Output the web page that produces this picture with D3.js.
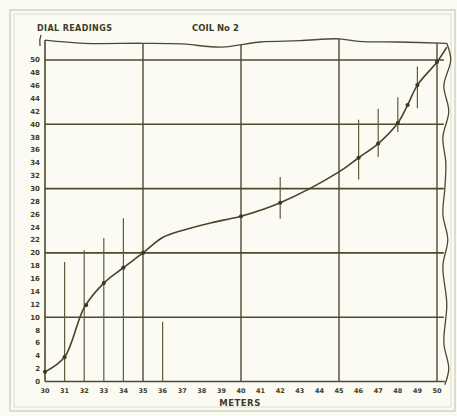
<!DOCTYPE html>
<html>
<head>
<meta charset="utf-8">
<script src="https://cdn.jsdelivr.net/npm/d3@7"></script>
<style>
  body { margin: 0; background: #fbfbf4; }
  svg { display: block; }
  text { font-family: "DejaVu Sans", sans-serif; font-weight: bold; fill: #3c3c28; }
</style>
</head>
<body>
<svg id="chart" width="457" height="416"></svg>
<script>
// Coil No 2 - dial readings against wavelength in meters

const meters = [30, 31, 32, 33, 34, 35, 36, 37, 38.5, 40, 42, 45, 46, 47, 48, 48.5, 49, 50, 50.5];
const dial   = [1.5, 3.8, 11.5, 15.3, 17.7, 20, 22.4, 23.5, 24.7, 25.7, 27.8, 32.6, 34.8, 37, 40.2, 43, 46.1, 49.7, 52];

// points marked on the curve
const markedMeters = [30, 31, 32.1, 33, 34, 35, 40, 42, 46, 47, 48, 48.5, 49, 50];

// vertical reading spans [meters, low, high]
const spans = [
    [31, 0, 18.6],
    [32, 0, 20.4],
    [33, 0, 22.3],
    [34, 0, 25.4],
    [36, 0, 9.3],
    [42, 25.3, 31.8],
    [46, 31.4, 40.7],
    [47, 34.9, 42.4],
    [48, 38.8, 44.2],
    [49, 42.5, 49]
];

const yTicks = d3.range(0, 52, 2);
const xTicks = d3.range(30, 51, 1);
const gridY = [10, 20, 30, 40, 50];
const gridX = [35, 40, 45, 50];

// torn paper edge (top, then right side), in data units
const topEdge = [[30, 53.1], [32, 52.6], [35, 52.6], [37, 52.5], [39, 52.0], [41, 52.8], [43, 53.0], [45, 53.3], [46, 52.9], [48, 52.8], [50.5, 52.6]];
const rightEdge = [[50.5, 52.6], [50.7, 50], [50.35, 46], [50.6, 42], [50.3, 38], [50.45, 34], [50.4, 30], [50.3, 26], [50.55, 22], [50.3, 18], [50.5, 12], [50.35, 6], [50.6, 2], [50.4, -0.5]];

const svg = d3.select('#chart');
const ink = '#4b4b30';

const x = d3.scaleLinear().domain([30, 50]).range([45, 437]);
const y = d3.scaleLinear().domain([0, 50]).range([381.5, 60]);
const topAt = d3.scaleLinear().domain(topEdge.map(d => d[0])).range(topEdge.map(d => d[1]));

// outer frame
svg.append('rect').attr('x', 10).attr('y', 10).attr('width', 445).attr('height', 401)
    .attr('fill', 'none').attr('stroke', '#c9c9b6').attr('stroke-width', 1.2);
svg.append('rect').attr('x', 14).attr('y', 14).attr('width', 437).attr('height', 393)
    .attr('fill', 'none').attr('stroke', '#dcdccb').attr('stroke-width', 1);

// grid
svg.selectAll('line.gy').data(gridY).enter().append('line')
    .attr('class', 'gy')
    .attr('x1', x(30)).attr('x2', x(50.35))
    .attr('y1', d => y(d)).attr('y2', d => y(d))
    .attr('stroke', ink).attr('stroke-width', 1.6);

svg.selectAll('line.gx').data(gridX).enter().append('line')
    .attr('class', 'gx')
    .attr('x1', d => x(d)).attr('x2', d => x(d))
    .attr('y1', y(0)).attr('y2', d => y(topAt(d)))
    .attr('stroke', ink).attr('stroke-width', 1.4);

// axes
svg.append('line').attr('x1', x(30)).attr('x2', x(50.4))
    .attr('y1', y(0)).attr('y2', y(0)).attr('stroke', ink).attr('stroke-width', 1.6);
svg.append('line').attr('x1', x(30)).attr('x2', x(30))
    .attr('y1', y(0)).attr('y2', y(53.1)).attr('stroke', ink).attr('stroke-width', 1.6);

const edge = d3.line().x(d => x(d[0])).y(d => y(d[1])).curve(d3.curveCatmullRom);
svg.append('path').attr('d', edge(topEdge))
    .attr('fill', 'none').attr('stroke', ink).attr('stroke-width', 1.3);
svg.append('path').attr('d', edge(rightEdge))
    .attr('fill', 'none').attr('stroke', ink).attr('stroke-width', 1.3);

// reading spans
svg.selectAll('line.span').data(spans).enter().append('line')
    .attr('class', 'span')
    .attr('x1', d => x(d[0])).attr('x2', d => x(d[0]))
    .attr('y1', d => y(d[1])).attr('y2', d => y(d[2]))
    .attr('stroke', '#5d5d3c').attr('stroke-width', 1.2);

// curve
const curveData = meters.map((m, i) => [m, dial[i]]);
const line = d3.line().x(d => x(d[0])).y(d => y(d[1])).curve(d3.curveCatmullRom);
svg.append('path').attr('d', line(curveData))
    .attr('fill', 'none').attr('stroke', '#454528').attr('stroke-width', 1.6);

// dots on the curve
const interp = d3.scaleLinear().domain(meters).range(dial);
svg.selectAll('circle.pt').data(markedMeters).enter().append('circle')
    .attr('class', 'pt')
    .attr('cx', d => x(d)).attr('cy', d => y(interp(d)))
    .attr('r', 2.1).attr('fill', '#3a3a22');

// tick labels
svg.selectAll('text.yt').data(yTicks).enter().append('text')
    .attr('class', 'yt')
    .attr('x', 40).attr('y', d => y(d)).attr('dy', '0.35em')
    .attr('text-anchor', 'end').attr('font-size', 7)
    .text(d => d);

svg.selectAll('text.xt').data(xTicks).enter().append('text')
    .attr('class', 'xt')
    .attr('x', d => x(d)).attr('y', 393)
    .attr('text-anchor', 'middle').attr('font-size', 6.5)
    .text(d => d);

// titles
svg.append('text').attr('x', 240).attr('y', 406).attr('text-anchor', 'middle')
    .attr('font-size', 8.5).attr('font-weight', 'normal').attr('letter-spacing', 0.5)
    .text('METERS');
svg.append('text').attr('x', 37).attr('y', 31).attr('font-size', 8)
    .attr('font-weight', 'normal').attr('letter-spacing', 0.4)
    .text('DIAL READINGS');
svg.append('text').attr('x', 192).attr('y', 31).attr('font-size', 8.5)
    .attr('font-weight', 'normal')
    .text('COIL No 2');

// little arrow from the label down to the chart
svg.append('path').attr('d', 'M41,35 Q39,40 40,46')
    .attr('fill', 'none').attr('stroke', ink).attr('stroke-width', 1.3);
</script>
</body>
</html>
